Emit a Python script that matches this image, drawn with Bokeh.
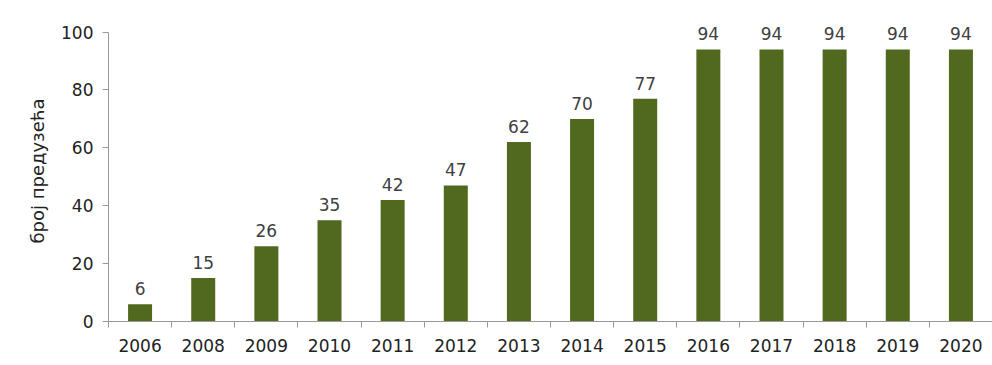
from bokeh.plotting import figure
from bokeh.models import ColumnDataSource, Range1d, FixedTicker, LabelSet
from bokeh.core.properties import value
from bokeh.embed import file_html
from bokeh.resources import INLINE

years = ["2006", "2008", "2009", "2010", "2011", "2012", "2013", "2014",
         "2015", "2016", "2017", "2018", "2019", "2020"]
counts = [6, 15, 26, 35, 42, 47, 62, 70, 77, 94, 94, 94, 94, 94]
y_label = "број предузећа"

centers = [i + 0.5 for i in range(len(years))]
bounds = list(range(len(years) + 1))
src = ColumnDataSource(dict(x=centers, y=counts, lab=[str(c) for c in counts]))

FONT = "DejaVu Sans"
p = figure(width=992, height=365, output_backend="svg", toolbar_location=None,
           x_range=Range1d(0, len(years)), y_range=Range1d(0, 104),
           min_border_left=108, min_border_right=0, min_border_top=20, min_border_bottom=44)
p.outline_line_color = None
p.xgrid.visible = False
p.ygrid.visible = False

p.vbar(x="x", top="y", width=0.38, source=src, fill_color="#50691f", line_color=None)
p.add_layout(LabelSet(x="x", y="y", text="lab", source=src, text_align="center",
                      text_baseline="bottom", y_offset=9, text_font_size="17px",
                      text_color="#404040", text_font=value(FONT)))

xa = p.xaxis[0]
xa.ticker = FixedTicker(ticks=centers, minor_ticks=bounds)
xa.major_label_overrides = {c: y for c, y in zip(centers, years)}
xa.major_tick_out = 0
xa.major_tick_in = 0
xa.minor_tick_out = 6
xa.minor_tick_in = 0
xa.minor_tick_line_color = "#999999"
xa.axis_line_color = "#999999"
xa.major_label_text_font = FONT
xa.major_label_text_font_size = "17px"
xa.major_label_text_color = "#222222"
xa.major_label_standoff = 11

ya = p.yaxis[0]
ya.ticker = FixedTicker(ticks=[0, 20, 40, 60, 80, 100], minor_ticks=[])
ya.bounds = (0, 100)
ya.major_tick_out = 6
ya.major_tick_in = 0
ya.major_tick_line_color = "#999999"
ya.axis_line_color = "#999999"
ya.major_label_text_font = FONT
ya.major_label_text_font_size = "17px"
ya.major_label_text_color = "#222222"
ya.major_label_standoff = 9
ya.axis_label = y_label
ya.axis_label_text_font = FONT
ya.axis_label_text_font_size = "18px"
ya.axis_label_text_font_style = "normal"
ya.axis_label_text_color = "#222222"
ya.axis_label_standoff = 10

open("out.html", "w").write(file_html(p, INLINE))
